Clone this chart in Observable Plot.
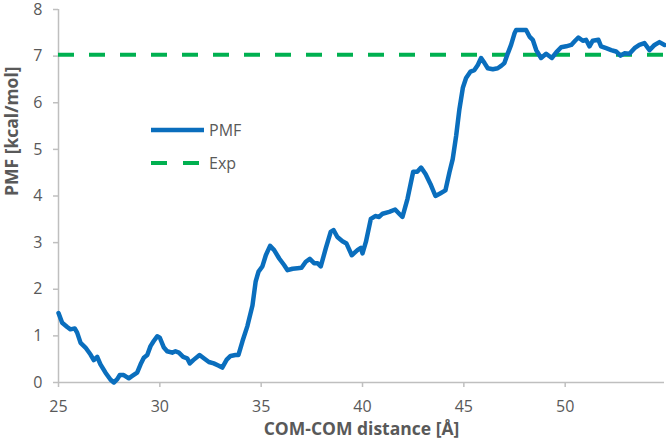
<!DOCTYPE html>
<html><head><meta charset="utf-8">
<script src="https://cdn.jsdelivr.net/npm/d3@7"></script>
<script src="https://cdn.jsdelivr.net/npm/@observablehq/plot@0.6"></script>
<style>
body{margin:0;background:#fff;}
#wrap{position:relative;width:666px;height:444px;font-family:"Open Sans",sans-serif;}
#legend{position:absolute;left:0;top:0;pointer-events:none;}
</style></head><body>
<div id="wrap"><div id="chart"></div><svg id="legend" width="666" height="444"></svg></div>
<script>
const distance = [25.00,25.18,25.43,25.59,25.80,25.92,26.09,26.33,26.58,26.74,26.91,27.07,27.32,27.57,27.73,27.90,28.02,28.22,28.47,28.64,28.88,29.05,29.21,29.38,29.54,29.70,29.87,30.00,30.20,30.36,30.61,30.77,30.94,31.15,31.35,31.48,31.65,31.96,32.17,32.42,32.66,32.91,33.08,33.30,33.49,33.73,33.88,34.08,34.32,34.57,34.73,34.87,35.06,35.23,35.44,35.64,35.89,36.13,36.30,36.55,36.79,36.99,37.20,37.40,37.61,37.78,37.94,38.19,38.43,38.57,38.76,39.01,39.21,39.47,39.75,39.92,40.00,40.17,40.41,40.63,40.82,40.99,41.32,41.61,41.81,41.97,42.13,42.22,42.50,42.70,42.89,43.11,43.35,43.60,43.85,44.09,44.29,44.45,44.62,44.78,44.95,45.11,45.33,45.52,45.69,45.85,46.02,46.18,46.43,46.67,46.84,47.00,47.17,47.33,47.50,47.58,47.83,48.07,48.24,48.40,48.57,48.81,49.06,49.34,49.56,49.80,50.05,50.30,50.49,50.65,50.87,51.03,51.20,51.36,51.64,51.77,52.02,52.27,52.51,52.73,52.92,53.17,53.42,53.66,53.91,54.16,54.41,54.65,54.90];
const pmf = [1.49,1.28,1.19,1.14,1.16,1.07,0.85,0.75,0.60,0.48,0.55,0.39,0.21,0.06,0.00,0.07,0.16,0.16,0.09,0.14,0.21,0.39,0.53,0.59,0.78,0.89,0.99,0.96,0.75,0.67,0.64,0.67,0.64,0.55,0.52,0.41,0.48,0.59,0.52,0.44,0.41,0.36,0.32,0.49,0.57,0.59,0.59,0.89,1.21,1.65,2.17,2.38,2.49,2.73,2.93,2.84,2.66,2.52,2.41,2.44,2.45,2.46,2.59,2.65,2.56,2.56,2.49,2.88,3.23,3.27,3.12,3.03,2.98,2.73,2.84,2.89,2.77,3.02,3.51,3.57,3.55,3.62,3.66,3.71,3.62,3.55,3.80,3.94,4.52,4.52,4.61,4.47,4.26,4.00,4.06,4.12,4.51,4.79,5.29,5.86,6.32,6.53,6.67,6.70,6.81,6.96,6.85,6.74,6.72,6.74,6.79,6.85,7.06,7.24,7.49,7.56,7.56,7.56,7.42,7.35,7.13,6.96,7.05,6.96,7.08,7.19,7.21,7.24,7.33,7.40,7.33,7.35,7.21,7.33,7.35,7.21,7.17,7.13,7.10,7.01,7.06,7.05,7.17,7.24,7.28,7.13,7.24,7.30,7.24];
const expValue = 7.03;
const xTicks = [25, 30, 35, 40, 45, 50];
const yTicks = [0, 1, 2, 3, 4, 5, 6, 7, 8];
const seriesNames = ["PMF", "Exp"];
const xTitle = "COM-COM distance [Å]";
const yTitle = "PMF [kcal/mol]";

const blue = "#0a6ebd", green = "#00b050", gridGray = "#bfbfbf", textGray = "#595959";
const data = distance.map((d, i) => ({distance: d, pmf: pmf[i]}));

const chart = Plot.plot({
  width: 666, height: 444,
  marginLeft: 58, marginRight: 2, marginTop: 9, marginBottom: 62,
  style: {fontFamily: "'Open Sans', sans-serif", fontSize: "16px", color: textGray, background: "#fff"},
  x: {domain: [25, 54.9]},
  y: {domain: [0, 8]},
  marks: [
    Plot.ruleX([25], {stroke: gridGray, strokeWidth: 1.5}),
    Plot.ruleY([0], {stroke: gridGray, strokeWidth: 1.5}),
    Plot.axisX({ticks: xTicks, tickSize: 5, tickPadding: 13, stroke: gridGray, strokeWidth: 1.5, fill: textGray, label: null, fontSize: 16}),
    Plot.axisY({ticks: yTicks, tickSize: 5, tickPadding: 11, stroke: gridGray, strokeWidth: 1.5, fill: textGray, label: null, fontSize: 16}),
    Plot.ruleY([expValue], {stroke: green, strokeWidth: 4, strokeDasharray: "16,15"}),
    Plot.line(data, {x: "distance", y: "pmf", stroke: blue, strokeWidth: 4.5, strokeLinejoin: "round"}),
    Plot.text([yTitle], {text: d => d, frameAnchor: "left", rotate: -90, dx: -46, fontWeight: "bold", fontSize: 17.5, fill: textGray}),
    Plot.text([xTitle], {text: d => d, frameAnchor: "bottom", dy: 52, fontWeight: "bold", fontSize: 17.5, fill: textGray})
  ]
});
document.getElementById("chart").appendChild(chart);

// legend inside plot area
const leg = d3.select("#legend");
const items = [
  {name: seriesNames[0], stroke: blue, dash: null, y: 130},
  {name: seriesNames[1], stroke: green, dash: "16,16", y: 163}
];
for (const it of items) {
  leg.append("line").attr("x1", 151).attr("x2", it.dash ? 199 : 204).attr("y1", it.y).attr("y2", it.y)
    .attr("stroke", it.stroke).attr("stroke-width", it.dash ? 4 : 4.5)
    .attr("stroke-dasharray", it.dash);
  leg.append("text").attr("x", 209).attr("y", it.y).attr("dy", "0.35em")
    .attr("fill", textGray).attr("font-size", 16).attr("font-family", "'Open Sans', sans-serif").text(it.name);
}
</script>
</body></html>
